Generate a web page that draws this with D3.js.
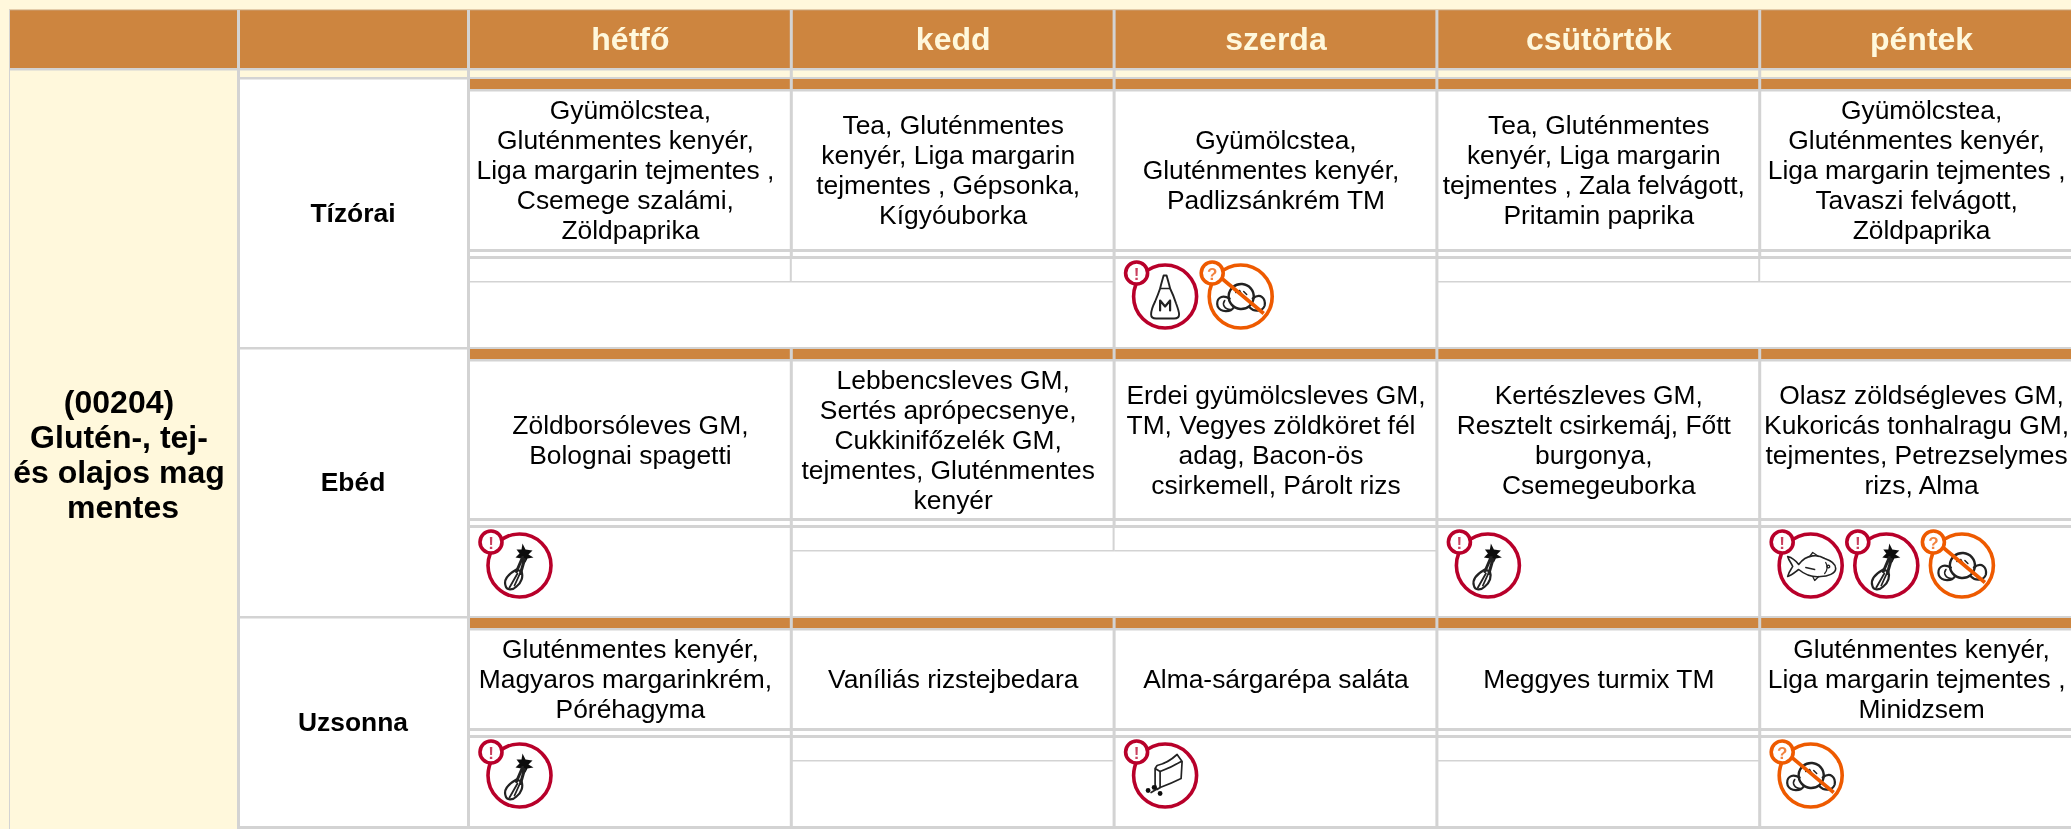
<!DOCTYPE html>
<html>
<head>
<meta charset="utf-8">
<script src="https://cdn.jsdelivr.net/npm/d3@7"></script>
<style>
	html, body { margin: 0; padding: 0; background: #fff8dc; overflow: hidden; }
	text { font-family: "Liberation Sans", Arial, sans-serif; text-anchor: middle; filter: blur(0.35px); }
	svg { display: block; }
</style>
</head>
<body>
<svg id="svg" width="2071" height="829"></svg>
<script>
// data
var days = ["hétfő", "kedd", "szerda", "csütörtök", "péntek"];
var meals = ["Tízórai", "Ebéd", "Uzsonna"];
var dietLabel = ["(00204)", "Glutén-, tej-", "és olajos mag", "mentes"];

var tizorai = [
	["Gyümölcstea,", "Gluténmentes kenyér,", "Liga margarin tejmentes ,", "Csemege szalámi,", "Zöldpaprika"],
	["Tea, Gluténmentes", "kenyér, Liga margarin", "tejmentes , Gépsonka,", "Kígyóuborka"],
	["Gyümölcstea,", "Gluténmentes kenyér,", "Padlizsánkrém TM"],
	["Tea, Gluténmentes", "kenyér, Liga margarin", "tejmentes , Zala felvágott,", "Pritamin paprika"],
	["Gyümölcstea,", "Gluténmentes kenyér,", "Liga margarin tejmentes ,", "Tavaszi felvágott,", "Zöldpaprika"]
];
var ebed = [
	["Zöldborsóleves GM,", "Bolognai spagetti"],
	["Lebbencsleves GM,", "Sertés aprópecsenye,", "Cukkinifőzelék GM,", "tejmentes, Gluténmentes", "kenyér"],
	["Erdei gyümölcsleves GM,", "TM, Vegyes zöldköret fél", "adag, Bacon-ös", "csirkemell, Párolt rizs"],
	["Kertészleves GM,", "Resztelt csirkemáj, Főtt", "burgonya,", "Csemegeuborka"],
	["Olasz zöldségleves GM,", "Kukoricás tonhalragu GM,", "tejmentes, Petrezselymes", "rizs, Alma"]
];
var uzsonna = [
	["Gluténmentes kenyér,", "Magyaros margarinkrém,", "Póréhagyma"],
	["Vaníliás rizstejbedara"],
	["Alma-sárgarépa saláta"],
	["Meggyes turmix TM"],
	["Gluténmentes kenyér,", "Liga margarin tejmentes ,", "Minidzsem"]
];
var menu = [tizorai, ebed, uzsonna];

var tizoraiIcons = [[], [], ["mustar", "szoja"], [], []];
var ebedIcons = [["zeller"], [], [], ["zeller"], ["hal", "zeller", "szoja"]];
var uzsonnaIcons = [["zeller"], [], ["csillagfurt"], [], ["szoja"]];
var icons = [tizoraiIcons, ebedIcons, uzsonnaIcons];

// colors
var grey = "#d3d3d3", peru = "#cd853f", cream = "#fff8dc";
var red = "#b8002a", orange = "#ee5a00";

// icon glyphs
var outline = function(g, d, w) {
	return g.append("path").attr("d", d).attr("fill", "none").attr("stroke", "#222").attr("stroke-width", w || 1.4)
		.attr("stroke-linejoin", "round").attr("stroke-linecap", "round");
};
var glyphs = {
	mustar: function(g) {
		outline(g, "M-1.5,-21 L1.5,-21 L4,-12 L5,-8 Q8,-2 11,7 Q14,15 14,18 Q14,22 9,22 L-9,22 Q-14,22 -14,18 Q-14,13 -10,5 Q-7,-2 -5,-8 L-4,-12 Z", 1.9);
		outline(g, "M-5,-8 L5,-8", 1.5);
		outline(g, "M-5,14 L-5,4 L0,10 L5,4 L5,14", 2.2);
	},
	szoja: function(g) {
		outline(g, "M-12,-1 A12.5,12.5 0 1 1 13,1 A12.5,12.5 0 1 1 -12,-1", 2.4);
		outline(g, "M-11,2 C-20,-3 -25,3 -23,10 C-20,16 -10,16 -7,11", 2.2);
		outline(g, "M-16,4 C-19,8 -16,13 -10,13", 1.6);
		outline(g, "M12,2 C20,-4 25,2 24,9 C22,15 14,16 9,11", 2.2);
		outline(g, "M-5,-4 L-1,-6 L1,-2 M3,-5 L6,-2", 1.5);
		g.append("path").attr("d", "M-20,-19 L23,17").attr("stroke", orange).attr("stroke-width", 3.6).attr("fill", "none");
	},
	zeller: function(g) {
		g.append("path").attr("fill", "#111")
			.attr("d", "M3,-22 L6,-16 L13,-15 L9,-11 L14,-8 L8,-7 L6,-3 L2,-7 L-4,-8 L0,-12 L-3,-16 L2,-16 Z");
		outline(g, "M3,-8 L-3,6 M5,-6 L1,8", 3);
		outline(g, "M-3,4 C-10,8 -16,14 -14,20 C-13,25 -7,25 -3,21 C2,17 4,11 2,6 Z", 2.2);
		outline(g, "M-2,8 L-10,22 M0,9 L-5,20", 1.8);
	},
	hal: function(g) {
		outline(g, "M-12,-1 C-4,-12 8,-11 14,-7 C20,-5 25,-2 25,3 C25,8 17,11 10,11 C2,12 -6,9 -12,4 C-16,7 -19,10 -23,11 C-22,6 -19,3 -18,1 C-19,-2 -22,-5 -23,-9 C-19,-8 -15,-5 -12,-1 Z", 1.6);
		outline(g, "M-1,-9 L2,-13 L8,-9 M2,11 L4,15 L8,11 M15,-3 C17,0 17,5 14,8 M-5,2 L4,4", 1.3);
		outline(g, "M19,1 A1.3,1.3 0 1 0 19,1.1", 1.3);
	},
	csillagfurt: function(g) {
		outline(g, "M-10,-7 L-10,9 L-8,14 L-5,12 Q6,8 16,3 L17,-14 L12,-21 Q2,-12 -8,-10 L-10,-7 L-5,-4 Q6,-8 16,-14", 1.7);
		outline(g, "M-5,-4 L-5,12", 1.7);
		outline(g, "M-9,14 L-14,17", 1.7);
		g.append("g").selectAll("circle").data([[-17, 15], [-5, 18], [-11, 12]]).enter().append("circle")
			.attr("cx", function(d) { return d[0]; }).attr("cy", function(d) { return d[1]; })
			.attr("r", 2.4).attr("fill", "#111");
	}
};

// layout
var svg = d3.select("#svg");
svg.append("defs").append("filter").attr("id", "soft")
	.attr("x", "-20%").attr("y", "-20%").attr("width", "140%").attr("height", "140%")
	.append("feGaussianBlur").attr("stdDeviation", 0.5);

var x = d3.scaleBand().domain(days).range([468, 468 + 5 * 322.8]);
var groupTop = d3.scaleOrdinal().domain(meals).range([77, 347, 616]);
var textBottom = d3.scaleOrdinal().domain(meals).range([249, 518, 728]);
var groupBottom = d3.scaleOrdinal().domain(meals).range([347, 616, 826]);

function rect(g, x0, y0, w, h, fill) {
	return g.append("rect").attr("x", x0).attr("y", y0).attr("width", w).attr("height", h).attr("fill", fill);
}
function vline(g, xx, y0, y1, w) {
	rect(g, xx - 1, y0, w || 3, y1 - y0, grey);
}

// allergen icons
function drawIcon(g, kind) {
	var warn = kind === "szoja";
	var col = warn ? orange : red;
	g.attr("filter", "url(#soft)");
	g.append("circle").attr("r", 31.5).attr("fill", "#fff").attr("stroke", col).attr("stroke-width", 3.6);
	glyphs[kind](g);
	var badge = g.append("g").attr("transform", "translate(-28.5,-23.5)");
	badge.append("circle").attr("r", 11).attr("fill", "#fff").attr("stroke", col).attr("stroke-width", 3.6);
	badge.append("text").attr("y", 6.5).attr("font-size", 17).attr("font-weight", "bold")
		.attr("fill", col).attr("opacity", .75).text(warn ? "?" : "!");
}

// header
var head = svg.append("g");
rect(head, 9, 10, 2062, 58, peru);
rect(head, 9, 9.5, 2062, 1, "#c9a27a");
rect(head, 9, 9.5, 1, 819.5, grey);
rect(head, 9, 68, 2062, 2.5, grey);
vline(head, 238, 10, 70);
days.forEach(function(d) { vline(head, x(d), 10, 77); });
vline(head, 238, 70, 829);
head.selectAll("text.day").data(days).enter().append("text")
	.attr("class", "day")
	.attr("x", function(d) { return x(d) + x.bandwidth() / 2 + 1; })
	.attr("y", 50)
	.attr("font-size", 32)
	.attr("font-weight", "bold")
	.attr("fill", cream)
	.text(function(d) { return d; });

// left label
svg.append("g").selectAll("text").data(dietLabel).enter().append("text")
	.attr("x", function(d, i) { return i === dietLabel.length - 1 ? 123 : 119; })
	.attr("y", function(d, i) { return 413 + i * 35; })
	.attr("font-size", 32)
	.attr("font-weight", "bold")
	.attr("fill", "#000")
	.text(function(d) { return d; });

// meal groups
meals.forEach(function(meal, m) {
	var g = svg.append("g");
	var top = groupTop(meal), tb = textBottom(meal), bot = groupBottom(meal);
	var iconTop = tb + 10;

	rect(g, 240, top, 1831, bot - top, "#fff");
	rect(g, 238, top, 1833, 2.5, grey);
	rect(g, 468, top + 2, 1603, 10, peru);
	rect(g, 468, top + 12, 1603, 2.5, grey);
	rect(g, 468, tb, 1603, 3, grey);
	rect(g, 468, tb + 7, 1603, 3, grey);

	g.append("text")
		.attr("x", 353)
		.attr("y", (top + bot) / 2 + 9.5)
		.attr("font-size", 26.4)
		.attr("font-weight", "bold")
		.text(meal);

	days.forEach(function(day, i) {
		// cell text, the wrapped middle lines sit a bit to the left
		var lines = menu[m][i];
		var mid = (top + 14 + tb) / 2;
		g.append("g").selectAll("text").data(lines).enter().append("text")
			.attr("x", function(d, k) {
				var middle = k > 0 && k < lines.length - 1;
				return x(day) + x.bandwidth() / 2 + 1 - (middle ? 5 : 0);
			})
			.attr("y", function(d, k) { return mid + (k - (lines.length - 1) / 2) * 30 + 9; })
			.attr("font-size", 26.4)
			.attr("fill", "#000")
			.text(function(d) { return d; });

		// empty allergen cell: thin line only
		var here = icons[m][i];
		if (!here.length) rect(g, x(day) + 1, iconTop + 22, x.bandwidth(), 1.5, grey);

		// column border, goes to the bottom if a neighbour has icons
		var full = i === 0 || here.length > 0 || icons[m][i - 1].length > 0;
		vline(g, x(day), top, tb + 10);
		vline(g, x(day), tb + 10, full ? bot : iconTop + 23, full ? 3 : 2);

		// icons
		g.append("g").selectAll("g").data(here).enter().append("g")
			.attr("transform", function(d, k) {
				return "translate(" + (x(day) + 51.5 + k * 75.6) + "," + (iconTop + 37.5) + ")";
			})
			.each(function(d) { drawIcon(d3.select(this), d); });
	});
	vline(g, 238, top, bot);
});
rect(svg, 238, 826, 1833, 3, grey);
</script>
</body>
</html>
